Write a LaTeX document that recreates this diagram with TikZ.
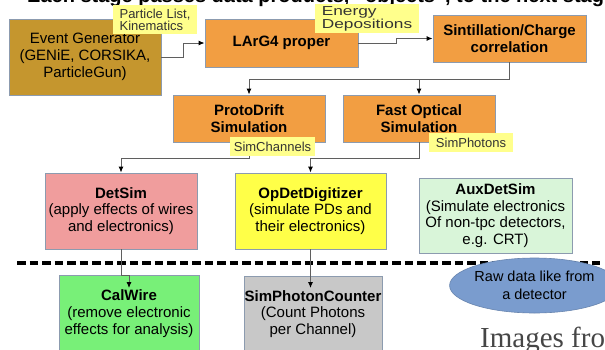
\documentclass[tikz,border=0pt]{standalone}
\usepackage{fontspec}
\setmainfont{Liberation Sans}
\newfontfamily\serifimg{Liberation Serif}
\newfontfamily\widesans[FakeStretch=1.33]{Liberation Sans}
\usetikzlibrary{arrows.meta,calc,shapes.geometric}
\definecolor{boxorange}{RGB}{242,158,66}
\definecolor{boxgold}{RGB}{197,150,46}
\definecolor{boxborder}{RGB}{140,155,175}
\definecolor{boxpink}{RGB}{240,157,157}
\definecolor{boxyellow}{RGB}{255,255,72}
\definecolor{boxpale}{RGB}{217,245,217}
\definecolor{boxgreen}{RGB}{120,240,120}
\definecolor{boxgray}{RGB}{200,200,200}
\definecolor{ellblue}{RGB}{122,156,206}
\definecolor{lblyellow}{RGB}{255,255,140}
\definecolor{connline}{RGB}{95,95,95}
\definecolor{imgtext}{RGB}{70,70,70}
\tikzset{
  stagebox/.style={draw=boxborder, line width=0.9pt, inner sep=0pt, align=center,
    font=\fontsize{15}{16.7}\selectfont},
  lbl/.style={fill=lblyellow, inner sep=0pt, align=left, text=black!80,
    font=\fontsize{13}{12}\selectfont},
  txt/.style={inner sep=0pt, align=center, font=\fontsize{15}{16.7}\selectfont},
  conn/.style={draw=connline, line width=0.9pt, -{Latex[length=6pt,width=5pt,color=black]}},
  plainconn/.style={draw=connline, line width=0.9pt},
}
\begin{document}
\begin{tikzpicture}[x=1pt,y=-1pt]
\useasboundingbox (0,0) rectangle (605,349);
\clip (0,0) rectangle (605,349);
\fill[white] (0,0) rectangle (605,349);
% title (cut off at the top)
\node[anchor=base west, inner sep=0pt, font=\bfseries\fontsize{20}{22}\selectfont] (title) at (27,2)
  {Each stage passes data products, “objects”, to the next stage};
% stage boxes
\node[stagebox, fill=boxgold, anchor=center, minimum width=152pt, minimum height=76pt] (eg) at (85,57)
  {Event Generator\\(GENiE, CORSIKA,\\ParticleGun)};
\node[stagebox, fill=boxorange, minimum width=153pt, minimum height=48pt, font=\bfseries\fontsize{15}{16.7}\selectfont] (larg) at (281.5,43)
  {LArG4 proper};
\node[stagebox, fill=boxorange, minimum width=153pt, minimum height=47pt, font=\bfseries\fontsize{15}{16.7}\selectfont] (sint) at (509.5,38.5)
  {Sintillation/Charge\\correlation};
\node[stagebox, fill=boxorange, minimum width=152pt, minimum height=47pt, font=\bfseries\fontsize{15}{16.7}\selectfont] (proto) at (249,118.5)
  {ProtoDrift\\Simulation};
\node[stagebox, fill=boxorange, minimum width=152pt, minimum height=47pt, font=\bfseries\fontsize{15}{16.7}\selectfont] (fast) at (419,118.5)
  {Fast Optical\\Simulation};
\node[stagebox, fill=boxpink, minimum width=152pt, minimum height=76pt] (det) at (121,211)
  {\textbf{DetSim}\\(apply effects of wires\\and electronics)};
\node[stagebox, fill=boxyellow, minimum width=151pt, minimum height=76pt] (opd) at (310.5,211)
  {\textbf{OpDetDigitizer}\\(simulate PDs and\\their electronics)};
\node[stagebox, fill=boxpale, minimum width=153pt, minimum height=75pt] (aux) at (495.5,215.5)
  {\textbf{AuxDetSim}\\(Simulate electronics\\Of non-tpc detectors,\\e.g. CRT)};
% dashed separator
\draw[line width=4pt, dash pattern=on 8.5pt off 4pt] (17,263) coordinate (dashl) -- (600,263) coordinate (dashr);
% lower boxes (cut off at the bottom)
\node[stagebox, fill=boxgreen, minimum width=140pt, minimum height=90pt, anchor=north] (cal) at (129,275) {};
\node[txt] (calt) at (129,313.5) {\textbf{CalWire}\\(remove electronic\\effects for analysis)};
\node[stagebox, fill=boxgray, minimum width=138pt, minimum height=90pt, anchor=north] (spc) at (313,276) {};
\node[txt] (spct) at (313,314) {\textbf{SimPhotonCounter}\\(Count Photons\\per Channel)};
% ellipse
\node[ellipse, draw=ellblue!85!black, line width=0.6pt, fill=ellblue, minimum width=135pt, minimum height=55pt, inner sep=0pt,
  align=center, font=\fontsize{14.5}{17.5}\selectfont] (raw) at (534.5,285.5)
  {Raw data like from\\a detector};
% connectors
\draw[conn] (eg.east) -- ++(22,0) |- (larg.west);
\draw[conn] (larg.east) -- ++(38,0) |- (sint.west);
\draw[plainconn] (sint.south) -- ++(0,17) coordinate (j1);
\draw[conn] (j1) -| (proto.north);
\draw[conn] (j1) -| (fast.north);
\draw[conn] (proto.south) -- ++(0,16) -| (det.north);
\draw[conn] (fast.south) -- ++(0,16) -| (opd.north);
\coordinate (calin) at (129,288);
\coordinate (spcin) at (310.5,288);
\draw[conn] (det.south) -- (det.south |- cal.north) -| (calin);
\draw[conn] (opd.south) -- (spcin);
% labels
\node[lbl, minimum width=84pt, minimum height=29pt] (pl) at (155,19.5)
  {Particle List,\\Kinematics};
\node[lbl, minimum width=104pt, minimum height=29pt, font=\widesans\fontsize{13}{12}\selectfont] (ed) at (367,18.5)
  {Energy\\Depositions};
\node[lbl, minimum width=85pt, minimum height=19pt] (sc) at (272.5,146.5) {SimChannels};
\node[lbl, minimum width=84pt, minimum height=19pt] (sp) at (471,142.5) {SimPhotons};
% footer text (cut off)
\node[anchor=base west, inner sep=0pt, text=imgtext, font=\serifimg\fontsize{29}{30}\selectfont] (img) at (480,347)
  {Images from};
\end{tikzpicture}
\end{document}
